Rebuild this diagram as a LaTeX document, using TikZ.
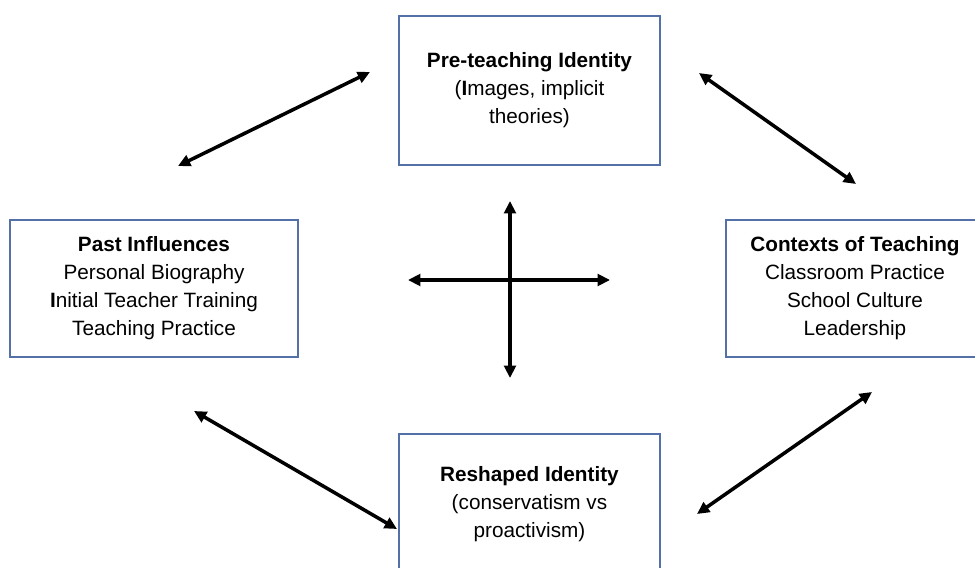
\documentclass[tikz,border=0pt]{standalone}
\usepackage{fontspec}
\setmainfont{Liberation Sans}
\usetikzlibrary{arrows.meta}
\definecolor{idframe}{RGB}{84,112,168}

\begin{document}
\begin{tikzpicture}[
    x=0.02cm, y=-0.02cm,
    >={Triangle[length=7pt,width=6.6pt]},
    stage/.style={draw=idframe, line width=0.6pt, fill=white, align=center,
      inner sep=0pt, font=\fontsize{11.8}{15.9}\selectfont},
    link/.style={<->, line width=2pt, black},
  ]
  \useasboundingbox (0,0) rectangle (975,568);

  %% the four identity stages
  \node[stage, minimum width=261*0.02cm, minimum height=149*0.02cm] (pre) at (529.5,90.5)
    {\textbf{Pre-teaching Identity}\\(\textbf{I}mages, implicit\\theories)};
  \node[stage, minimum width=288*0.02cm, minimum height=137*0.02cm] (past) at (154,288.5)
    {\textbf{Past Influences}\\Personal Biography\\\textbf{I}nitial Teacher Training\\Teaching Practice};
  \node[stage, minimum width=258*0.02cm, minimum height=137*0.02cm] (ctx) at (855,288.5)
    {\textbf{Contexts of Teaching}\\Classroom Practice\\School Culture\\Leadership};
  \node[stage, minimum width=261*0.02cm, minimum height=140*0.02cm] (resh) at (529.5,504)
    {\textbf{Reshaped Identity}\\(conservatism vs\\proactivism)};

  %% free ends of the links
  \coordinate (tlA) at (178,166);
  \coordinate (tlB) at (370,72);
  \coordinate (trA) at (699,73);
  \coordinate (trB) at (856,184);
  \coordinate (blA) at (194,411);
  \coordinate (blB) at (397,529);
  \coordinate (brA) at (697,514);
  \coordinate (brB) at (872,392);
  \coordinate (up) at (510,201);
  \coordinate (dn) at (510,378);
  \coordinate (lf) at (408,280);
  \coordinate (rt) at (610,280);

  %% two-way links between stages
  \draw[link] (tlA) -- (tlB);
  \draw[link] (trA) -- (trB);
  \draw[link] (blA) -- (blB);
  \draw[link] (brA) -- (brB);

  %% central cross
  \draw[link] (up) -- (dn);
  \draw[link] (lf) -- (rt);

\end{tikzpicture}
\end{document}
